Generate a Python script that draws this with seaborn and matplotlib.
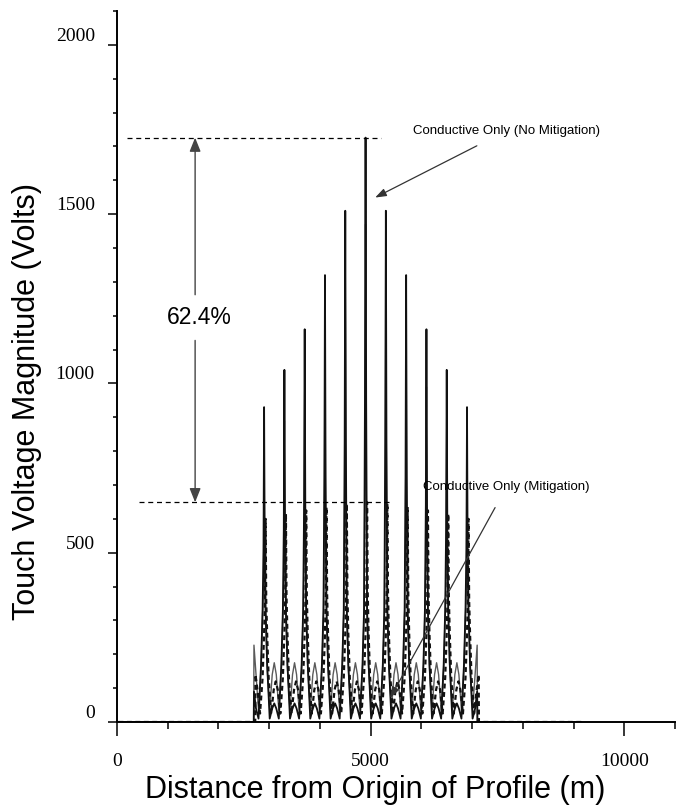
import matplotlib
matplotlib.use("Agg")
import matplotlib.pyplot as plt
import seaborn as sns
from matplotlib.ticker import MultipleLocator, FixedLocator
from matplotlib.transforms import offset_copy

# distance along the profile (m), shared by the three traces
DIST_M = [0, 2695, 2700,
          2740, 2790, 2840, 2870, 2888, 2900, 2912, 2930, 2960, 3010, 3060, 3100,
          3140, 3190, 3240, 3270, 3288, 3300, 3312, 3330, 3360, 3410, 3460, 3500,
          3540, 3590, 3640, 3670, 3688, 3700, 3712, 3730, 3760, 3810, 3860, 3900,
          3940, 3990, 4040, 4070, 4088, 4100, 4112, 4130, 4160, 4210, 4260, 4300,
          4340, 4390, 4440, 4470, 4488, 4500, 4512, 4530, 4560, 4610, 4660, 4700,
          4740, 4790, 4840, 4870, 4888, 4900, 4912, 4930, 4960, 5010, 5060, 5100,
          5140, 5190, 5240, 5270, 5288, 5300, 5312, 5330, 5360, 5410, 5460, 5500,
          5540, 5590, 5640, 5670, 5688, 5700, 5712, 5730, 5760, 5810, 5860, 5900,
          5940, 5990, 6040, 6070, 6088, 6100, 6112, 6130, 6160, 6210, 6260, 6300,
          6340, 6390, 6440, 6470, 6488, 6500, 6512, 6530, 6560, 6610, 6660, 6700,
          6740, 6790, 6840, 6870, 6888, 6900, 6912, 6930, 6960, 7010, 7060,
          7100, 7105, 9150]

# Conductive only, no mitigation (solid black)
V_NO_MIT = [0, 0, 90,
            40, 10, 170, 330, 510, 930, 510, 330, 170, 10, 40, 55,
            40, 10, 170, 330, 570, 1040, 570, 330, 170, 10, 40, 55,
            40, 10, 170, 330, 640, 1160, 640, 330, 170, 10, 40, 55,
            40, 10, 170, 330, 725, 1320, 725, 330, 170, 10, 40, 55,
            40, 10, 170, 330, 830, 1510, 830, 330, 170, 10, 40, 55,
            40, 10, 170, 330, 950, 1726, 950, 330, 170, 10, 40, 55,
            40, 10, 170, 330, 830, 1510, 830, 330, 170, 10, 40, 55,
            40, 10, 170, 330, 725, 1320, 725, 330, 170, 10, 40, 55,
            40, 10, 170, 330, 640, 1160, 640, 330, 170, 10, 40, 55,
            40, 10, 170, 330, 570, 1040, 570, 330, 170, 10, 40, 55,
            40, 10, 170, 330, 510, 930, 510, 330, 170, 10, 40,
            90, 0, 0]

# Conductive only, with mitigation (dashed black)
V_MIT = [0, 0, 140,
         95, 25, 130, 260, 360, 600, 360, 260, 130, 25, 95, 120,
         95, 25, 130, 260, 370, 615, 370, 260, 130, 25, 95, 120,
         95, 25, 130, 260, 375, 625, 375, 260, 130, 25, 95, 120,
         95, 25, 130, 260, 380, 635, 380, 260, 130, 25, 95, 120,
         95, 25, 130, 260, 387, 645, 387, 260, 130, 25, 95, 120,
         95, 25, 130, 260, 390, 649, 390, 260, 130, 25, 95, 120,
         95, 25, 130, 260, 387, 645, 387, 260, 130, 25, 95, 120,
         95, 25, 130, 260, 380, 635, 380, 260, 130, 25, 95, 120,
         95, 25, 130, 260, 375, 625, 375, 260, 130, 25, 95, 120,
         95, 25, 130, 260, 370, 615, 370, 260, 130, 25, 95, 120,
         95, 25, 130, 260, 360, 600, 360, 260, 130, 25, 95,
         140, 0, 0]

# third (thin grey) trace
V_OTHER = [0, 0, 227,
           140, 35, 160, 320, 400, 800, 400, 320, 160, 35, 140, 175,
           140, 35, 160, 320, 445, 890, 445, 320, 160, 35, 140, 175,
           140, 35, 160, 320, 495, 990, 495, 320, 160, 35, 140, 175,
           140, 35, 160, 320, 565, 1130, 565, 320, 160, 35, 140, 175,
           140, 35, 160, 320, 645, 1290, 645, 320, 160, 35, 140, 175,
           140, 35, 160, 320, 735, 1470, 735, 320, 160, 35, 140, 175,
           140, 35, 160, 320, 645, 1290, 645, 320, 160, 35, 140, 175,
           140, 35, 160, 320, 565, 1130, 565, 320, 160, 35, 140, 175,
           140, 35, 160, 320, 495, 990, 495, 320, 160, 35, 140, 175,
           140, 35, 160, 320, 445, 890, 445, 320, 160, 35, 140, 175,
           140, 35, 160, 320, 400, 800, 400, 320, 160, 35, 140,
           227, 0, 0]

PEAK_NO_MIT = 1726
PEAK_MIT = 649
REDUCTION_LABEL = "62.4%"

sns.set_theme(style="ticks")
plt.rcParams["font.family"] = ["Liberation Sans", "DejaVu Sans"]
plt.rcParams.update({"text.color": "black", "axes.labelcolor": "black",
                     "xtick.color": "black", "ytick.color": "black"})

fig = plt.figure(figsize=(6.88, 8.08), dpi=100)
ax = fig.add_axes([117 / 688, 86 / 808, 558 / 688, 711 / 808])

sns.lineplot(x=DIST_M, y=V_OTHER, ax=ax, color="#5a5a5a", lw=1.0, estimator=None, sort=False)
sns.lineplot(x=DIST_M, y=V_NO_MIT, ax=ax, color="#111111", lw=1.3, estimator=None, sort=False)
# mitigation trace sits a hair to the right of the solid one, as in the source figure
shifted = offset_copy(ax.transData, fig=fig, x=1.5, y=0, units="dots")
sns.lineplot(x=DIST_M, y=V_MIT, ax=ax, color="#111111", lw=1.6, ls=(0, (2.2, 1.6)),
             estimator=None, sort=False, transform=shifted)

# reference levels for the reduction
ax.plot([200, 5200], [PEAK_NO_MIT, PEAK_NO_MIT], color="black", lw=0.9, ls=(0, (4, 3)))
ax.plot([430, 5420], [PEAK_MIT, PEAK_MIT], color="black", lw=0.9, ls=(0, (4, 3)))

arrow = dict(arrowstyle="-|>,head_length=0.7,head_width=0.28", color="#444444",
             lw=1.0, shrinkA=0, shrinkB=0)
ax.annotate("", xy=(1540, PEAK_NO_MIT), xytext=(1540, 1262), arrowprops=arrow)
ax.annotate("", xy=(1540, PEAK_MIT), xytext=(1540, 1127), arrowprops=arrow)
ax.text(1617, 1195, REDUCTION_LABEL, ha="center", va="center", fontsize=16.5)

ax.annotate("Conductive Only (No Mitigation)", xy=(5089, 1549), xytext=(7673, 1746),
            ha="center", va="center", fontsize=9.5,
            arrowprops=dict(arrowstyle="-|>,head_length=0.7,head_width=0.25",
                            color="#333333", lw=0.9, shrinkA=9, shrinkB=0))
ax.annotate("Conductive Only (Mitigation)", xy=(5385, 71), xytext=(7673, 693),
            ha="center", va="center", fontsize=9.5,
            arrowprops=dict(arrowstyle="-|>,head_length=0.7,head_width=0.25",
                            color="#333333", lw=0.9, shrinkA=9, shrinkB=0))

ax.set_xlim(0, 11000)
ax.set_ylim(0, 2100)
ax.xaxis.set_major_locator(FixedLocator([0, 5000, 10000]))
ax.xaxis.set_minor_locator(MultipleLocator(1000))
ax.yaxis.set_major_locator(MultipleLocator(500))
ax.yaxis.set_minor_locator(MultipleLocator(100))
ax.tick_params(axis="x", which="major", direction="out", length=10, width=1.1, pad=12,
               labelsize=14, color="black", labelcolor="black")
ax.tick_params(axis="x", which="minor", direction="out", length=5, width=1.1, color="black")
ax.tick_params(axis="y", which="major", direction="out", length=6.5, width=1.1, pad=9.5,
               labelsize=14, color="black", labelcolor="black")
ax.tick_params(axis="y", which="minor", direction="out", length=3, width=1.1, color="black")
plt.setp(ax.get_xticklabels() + ax.get_yticklabels(), family="Liberation Serif")
plt.setp(ax.get_yticklabels(), va="bottom")

sns.despine(ax=ax)
for side in ["left", "bottom"]:
    ax.spines[side].set_linewidth(1.4)
    ax.spines[side].set_color("black")

ax.set_xlabel("Distance from Origin of Profile (m)", fontsize=22, va="center", color="black")
ax.set_ylabel("Touch Voltage Magnitude (Volts)", fontsize=22, va="center", color="black")
ax.xaxis.set_label_coords((375 - 117) / 558, (722 - 790) / 711)
ax.yaxis.set_label_coords((27 - 117) / 558, (722 - 402) / 711)

fig.savefig("out.png", dpi=100, facecolor="white")
